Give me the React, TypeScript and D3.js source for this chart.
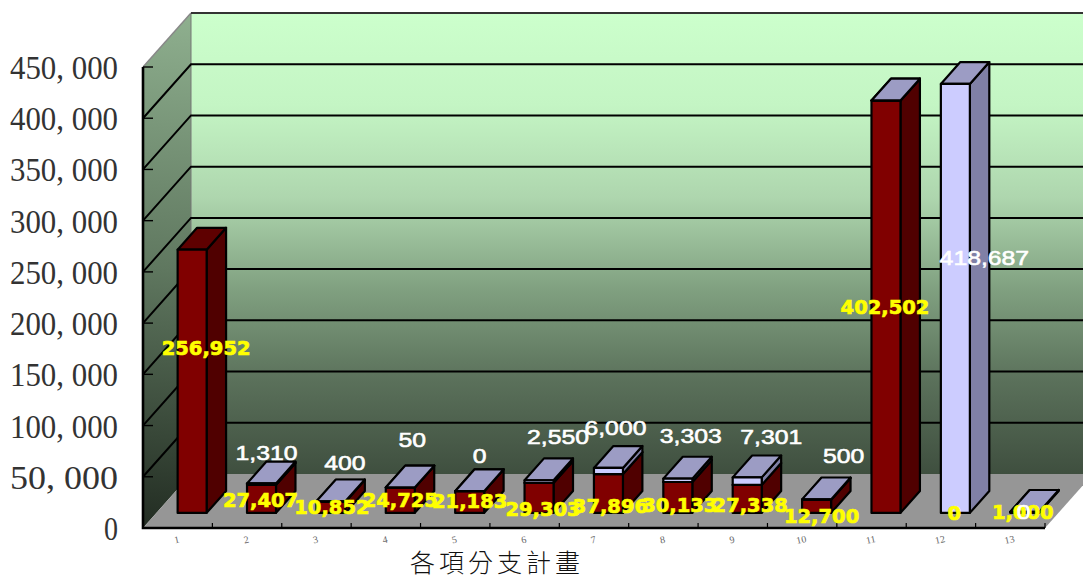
import * as d3 from 'd3';

const categories = ['1', '2', '3', '4', '5', '6', '7', '8', '9', '10', '11', '12', '13'];
const yTicks = [0, 50000, 100000, 150000, 200000, 250000, 300000, 350000, 400000, 450000];
const redValues = [256952, 27407, 10852, 24725, 21183, 29303, 37896, 30133, 27338, 12700, 402502, 0, 1000];
// null = no lavender segment at all, the red block gets its own lid
const lavenderValues: (number | null)[] = [null, 1310, 400, 50, 0, 2550, 6000, 3303, 7301, 500, 0, 418687, 0];
const title = '各項分支計畫';

// hand placed labels, same as the source chart: [dx, dy] from the segment centre
const redNudge = [[14, -33], [-1, 1], [1, 0], [0, 0], [0, -1], [4, 11], [2, 13], [2, 8], [3, 6], [5, 10], [-1, 0], [-1, 0], [-2, 0]];
const lavenderNudge: ([number, number] | null)[] = [null, [5, -32], [14, -40], [12, -49], [10, -36], [19, -46], [7, -44], [13, -45], [24, -45], [27, -45], null, [29, -41], [-1, -1]];

const W = 1083;
const H = 580;
const depthX = 48;
const depthY = -54;
const zNear = 0.28;
const zFar = 0.685;

const x = d3.scaleBand<string>().domain(categories).range([143, 1045]);
const y = d3.scaleLinear().domain([0, 450000]).range([528, 67]);
const fmt = d3.format(',');
const barW = 29;
const barShift = 1;

type P = [number, number];
const pt = (px: number, v: number, z: number): P => [px + depthX * z, y(v) + depthY * z];
const poly = (pts: P[]) => d3.line()(pts) + 'Z';

function Block({ i, from, to, front, side, top }: { i: number; from: number; to: number; front: string; side: string; top: string }) {
  const c = x(categories[i])! + x.bandwidth() / 2 + barShift;
  const l = c - barW / 2;
  const r = c + barW / 2;
  return (
    <g stroke="#000" strokeWidth={2.2} strokeLinejoin="round">
      <path d={poly([pt(r, from, zNear), pt(r, to, zNear), pt(r, to, zFar), pt(r, from, zFar)])} fill={side} />
      <path d={poly([pt(l, to, zNear), pt(r, to, zNear), pt(r, to, zFar), pt(l, to, zFar)])} fill={top} />
      <path d={poly([pt(l, from, zNear), pt(r, from, zNear), pt(r, to, zNear), pt(l, to, zNear)])} fill={front} />
    </g>
  );
}

export default function App() {
  const x0 = 143;
  const x1 = 1045;
  const y0 = y(0);
  const yMax = y(450000);
  return (
    <svg width={W} height={H} viewBox={`0 0 ${W} ${H}`} style={{ position: 'absolute', left: 0, top: 0, background: '#fff' }}>
      <defs>
        <linearGradient id="wall" x1="0" x2="0" y1="0" y2="1">
          <stop offset="0" stopColor="#ccffcc" />
          <stop offset="0.2" stopColor="#c4f5c4" />
          <stop offset="0.4" stopColor="#aed6ae" />
          <stop offset="0.6" stopColor="#80a080" />
          <stop offset="0.8" stopColor="#5a705a" />
          <stop offset="1" stopColor="#3f4f3f" />
        </linearGradient>
        <linearGradient id="sideWall" gradientUnits="userSpaceOnUse" x1="191" y1="13" x2="143" y2="528">
          <stop offset="0" stopColor="#8fb08f" />
          <stop offset="0.5" stopColor="#5f775f" />
          <stop offset="1" stopColor="#222c22" />
        </linearGradient>
      </defs>

      {/* walls and floor */}
      <path d={poly([[x0 + depthX, yMax + depthY], [x1 + depthX, yMax + depthY], [x1 + depthX, y0 + depthY], [x0 + depthX, y0 + depthY]])} fill="url(#wall)" />
      <path d={poly([[x0, yMax], [x0 + depthX, yMax + depthY], [x0 + depthX, y0 + depthY], [x0, y0]])} fill="url(#sideWall)" />
      <path d={poly([[x0, y0], [x1, y0], [x1 + depthX, y0 + depthY], [x0 + depthX, y0 + depthY]])} fill="#969696" />
      <path d={`M${x0},${yMax}L${x0 + depthX},${yMax + depthY}`} stroke="#888" strokeWidth={1.5} />
      <path d={`M${x0 + depthX},${yMax + depthY}V${y0 + depthY}`} stroke="#777" strokeWidth={1} />

      {/* grid */}
      {yTicks.slice(1).map((t) => (
        <path
          key={t}
          d={t === 450000
            ? `M${x0 + depthX},${y(t) + depthY}H${W}`
            : `M${x0},${y(t)}L${x0 + depthX},${y(t) + depthY}H${W}`}
          fill="none"
          stroke={t === 450000 ? '#333' : '#000'}
          strokeWidth={2}
        />
      ))}

      {/* axes */}
      <path d={`M${x0},${yMax}V${y0}H${x1}`} fill="none" stroke="#000" strokeWidth={2.6} />
      {yTicks.map((t) => (
        <path key={t} d={`M${x0},${y(t)}h10`} stroke="#000" strokeWidth={1.4} />
      ))}
      {categories.map((c) => (
        <path key={c} d={`M${x(c)! + x.bandwidth()},${y0}v-5`} stroke="#000" strokeWidth={1.2} />
      ))}
      {yTicks.map((t) => (
        <text
          key={t}
          x={118}
          y={y(t) + 12}
          textAnchor="end"
          fontFamily="'Liberation Serif', serif"
          fontSize={34}
          fill="#333"
          textLength={t === 0 ? 14 : 108}
          lengthAdjust="spacingAndGlyphs"
        >
          {t === 0 ? '0' : fmt(t).replace(',', ', ')}
        </text>
      ))}
      {categories.map((c) => {
        const cx = x(c)! + x.bandwidth() / 2 - 1;
        return (
          <text key={c} x={cx} y={543} textAnchor="middle" fontFamily="'Liberation Serif', serif" fontSize={10} fill="#666" transform={`rotate(-12 ${cx} 539)`}>
            {c}
          </text>
        );
      })}
      <text x={497} y={572} textAnchor="middle" fontFamily="'Noto Sans CJK TC', sans-serif" fontWeight={300} fontSize={25} letterSpacing={4} fill="#111">
        {title}
      </text>

      {/* bars */}
      {categories.map((c, i) => {
        const red = redValues[i];
        const lav = lavenderValues[i];
        return (
          <g key={c}>
            {red > 0 && <Block i={i} from={0} to={red} front="#800000" side="#500000" top="#5e0000" />}
            {lav !== null && <Block i={i} from={red} to={red + lav} front="#ccccff" side="#8080a6" top="#9c9cc4" />}
          </g>
        );
      })}

      {/* labels */}
      {categories.map((c, i) => {
        const cx = x(c)! + x.bandwidth() / 2 + barShift + depthX * zNear;
        const [dx, dy] = redNudge[i];
        return (
          <text key={c} x={cx + dx} y={y(redValues[i] / 2) + depthY * zNear + dy + 7} textAnchor="middle" fontFamily="'DejaVu Sans', sans-serif" fontWeight={700} fontSize={19.5} stroke="#ffff00" strokeWidth={0.7} fill="#ffff00">
            {fmt(redValues[i])}
          </text>
        );
      })}
      {categories.map((c, i) => {
        const nudge = lavenderNudge[i];
        const lav = lavenderValues[i];
        if (!nudge || lav === null) return null;
        const cx = x(c)! + x.bandwidth() / 2 + barShift + depthX * zNear + nudge[0];
        const cy = y(redValues[i] + lav / 2) + depthY * zNear + nudge[1] + 8;
        return (
          <text key={c} transform={`translate(${cx},${cy}) scale(1.18,1)`} textAnchor="middle" fontFamily="'Liberation Sans', sans-serif" fontSize={21} stroke="#fff" strokeWidth={0.6} fill="#fff">
            {fmt(lav)}
          </text>
        );
      })}
    </svg>
  );
}
